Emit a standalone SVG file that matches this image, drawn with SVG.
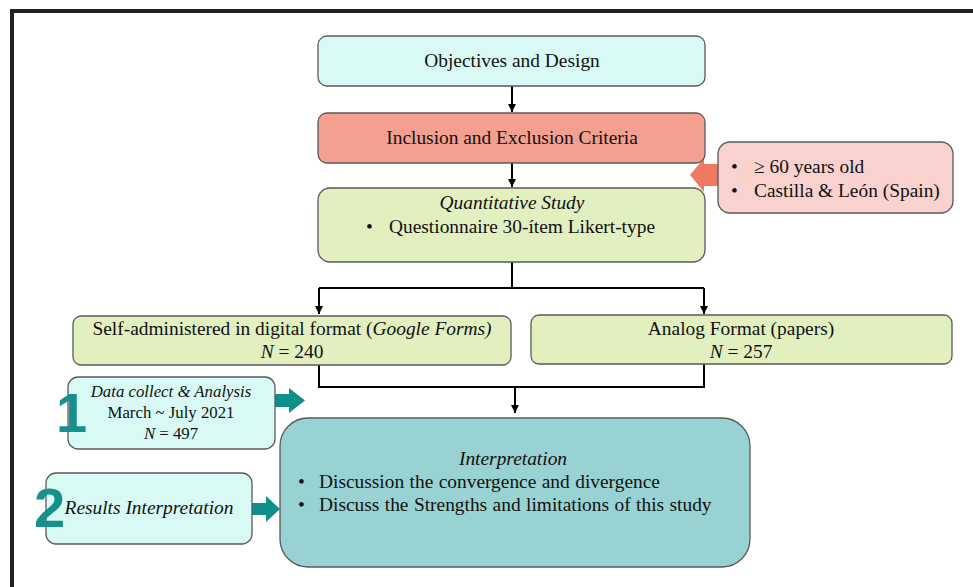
<svg xmlns="http://www.w3.org/2000/svg" width="973" height="587" viewBox="0 0 973 587">
<style>
.t{font-family:"Liberation Serif","Times New Roman",serif;font-size:19.4px;fill:#111}
.s{font-size:16.8px}
.i{font-style:italic}
.m{text-anchor:middle}
.ws{word-spacing:0.6px}
.box{stroke:#5a5a5a;stroke-width:1.3}
.cyan{fill:#d9faf4}
.salmon{fill:#f4a090}
.green{fill:#e2f0c0}
.pink{fill:#f9d2ce}
.teal{fill:#98d2d2}
.line{fill:none;stroke:#000;stroke-width:2}
.big{font-family:"Liberation Sans",Arial,sans-serif;font-weight:bold;font-size:56px;fill:#17908b}
.block{fill:#0f8f8a}
</style>
<defs>
<marker id="ah" markerUnits="userSpaceOnUse" markerWidth="10" markerHeight="10" refX="8" refY="4" orient="auto">
<path d="M0,0 L8,4 L0,8 Z" fill="#000"/>
</marker>
</defs>
<rect width="973" height="587" fill="#fff"/>
<path d="M12,587 V11 H973" fill="none" stroke="#222" stroke-width="4"/>

<g id="connectors">
<path class="line" d="M512,86 V112" marker-end="url(#ah)"/>
<path class="line" d="M512,163 V187" marker-end="url(#ah)"/>
<path class="line" d="M512,262 V288"/>
<path class="line" d="M319,288 H704"/>
<path class="line" d="M319,288 V314" marker-end="url(#ah)"/>
<path class="line" d="M704,288 V314" marker-end="url(#ah)"/>
<path class="line" d="M319,365 V387 H704 V364"/>
<path class="line" d="M515,387 V413" marker-end="url(#ah)"/>
<polygon id="criteria-arrow" points="718,164 704,164 704,158 690,175 704,192 704,186 718,186" fill="#ef7a62"/>
<polygon id="arrow-1" points="275,394 289,394 289,388 305,400.5 289,413 289,407 275,407" class="block"/>
<polygon id="arrow-2" points="252,503 266,503 266,496 280,509 266,522 266,515 252,515" class="block"/>
</g>

<g id="objectives">
<rect class="box cyan" x="318" y="36" width="387" height="50" rx="9"/>
<text class="t m" x="512" y="67">Objectives and Design</text>
</g>

<g id="inclusion">
<rect class="box salmon" x="318" y="113" width="387" height="50" rx="9"/>
<text class="t m" x="512" y="144">Inclusion and Exclusion Criteria</text>
</g>

<g id="criteria">
<rect class="box pink" x="718" y="142" width="235" height="71" rx="12"/>
<text class="t" x="731" y="173">•</text>
<text class="t" x="754" y="173">≥ 60 years old</text>
<text class="t" x="731" y="197">•</text>
<text class="t" x="754" y="197">Castilla &amp; León (Spain)</text>
</g>

<g id="quantitative">
<rect class="box green" x="318" y="188" width="387" height="74" rx="12"/>
<text class="t i m" x="512" y="209">Quantitative Study</text>
<text class="t" x="366" y="233">•</text>
<text class="t" x="389" y="233">Questionnaire 30-ítem Likert-type</text>
</g>

<g id="digital">
<rect class="box green" x="73" y="316" width="438" height="49" rx="8"/>
<text class="t m" x="292" y="335">Self-administered in digital format (<tspan class="i">Google Forms)</tspan></text>
<text class="t m" x="292" y="358"><tspan class="i">N</tspan> = 240</text>
</g>

<g id="analog">
<rect class="box green" x="531" y="315" width="421" height="49" rx="8"/>
<text class="t m" x="741" y="335">Analog Format (papers)</text>
<text class="t m" x="741" y="358"><tspan class="i">N</tspan> = 257</text>
</g>

<g id="data-collect">
<rect class="box cyan" x="68" y="377" width="207" height="72" rx="10"/>
<text class="t s i m" x="171" y="397">Data collect &amp; Analysis</text>
<text class="t s m" x="171" y="418">March ~ July 2021</text>
<text class="t s m" x="171" y="439"><tspan class="i">N</tspan> = 497</text>
<text class="big" x="56" y="432">1</text>
</g>

<g id="results">
<rect class="box cyan" x="46" y="473" width="206" height="71" rx="10"/>
<text class="t i m" x="149" y="514">Results Interpretation</text>
<text class="big" x="34" y="527">2</text>
</g>

<g id="interpretation">
<rect class="box teal" x="280" y="418" width="470" height="149" rx="28"/>
<text class="t i m" x="513" y="465">Interpretation</text>
<text class="t" x="298" y="488">•</text>
<text class="t ws" x="319" y="488">Discussion the convergence and divergence</text>
<text class="t" x="298" y="511">•</text>
<text class="t ws" x="319" y="511">Discuss the Strengths and limitations of this study</text>
</g>
</svg>
